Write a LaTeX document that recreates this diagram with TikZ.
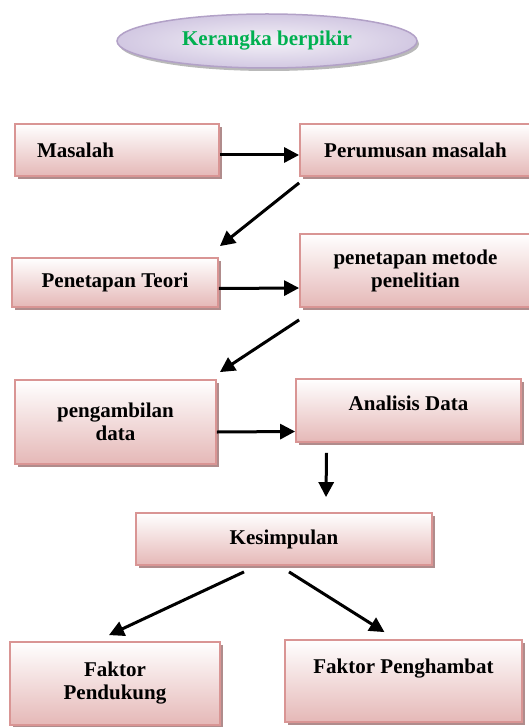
\documentclass[tikz,border=0pt]{standalone}
\usepackage{fontspec}
\setmainfont{Liberation Serif}
\usetikzlibrary{arrows.meta,positioning,shadows,shapes.geometric}
\definecolor{boxline}{RGB}{217,149,148}
\definecolor{boxpink}{RGB}{229,184,183}
\definecolor{boxshade}{RGB}{176,140,140}
\definecolor{ovalline}{RGB}{178,161,199}
\definecolor{ovalfill}{RGB}{210,200,226}
\definecolor{titlegreen}{RGB}{0,176,80}

\begin{document}
\begin{tikzpicture}[x=1pt,y=-1pt,>=Latex,
stage box/.style={draw=boxline,line width=1.8pt,top color=white,bottom color=boxpink,drop shadow={shadow xshift=3pt,shadow yshift=-3pt,fill=boxshade,opacity=1},align=center,inner sep=0pt,font=\bfseries\fontsize{21}{23}\selectfont},
title oval/.style={ellipse,draw=ovalline,line width=1.5pt,inner color=white!75!ovalfill,outer color=ovalfill,drop shadow={shadow xshift=2pt,shadow yshift=-3pt,fill=gray!55,opacity=1},inner sep=0pt,text=titlegreen,font=\bfseries\fontsize{21}{23}\selectfont},
flow/.style={-{Triangle[length=15pt,width=15pt]},line width=3pt}]
\useasboundingbox (0,0) rectangle (529,727);
\node[title oval,minimum width=300pt,minimum height=54pt] (judul) at (267,41) {Kerangka berpikir};
\node[stage box,minimum height=52pt,text width=160pt,align=left,inner xsep=22pt] (masalah) at (117,150) {Masalah};
\node[stage box,minimum width=231pt,minimum height=52pt] (perumusan) at (415.5,150) {Perumusan masalah};
\node[stage box,minimum width=206pt,minimum height=49pt] (teori) at (115,282.5) {Penetapan Teori};
\node[stage box,minimum width=231pt,minimum height=73pt] (metode) at (415.5,270.5) {penetapan metode\\penelitian};
\node[stage box,minimum width=201pt,minimum height=84pt] (ambil) at (115.5,422) {pengambilan\\data};
\node[stage box,minimum width=225pt,minimum height=63pt,text depth=14pt] (analisis) at (408.5,410.5) {Analisis Data};
\node[stage box,minimum width=296pt,minimum height=52pt] (kesimpulan) at (284,539) {Kesimpulan};
\node[stage box,minimum width=210pt,minimum height=83pt] (pendukung) at (115,683.5) {Faktor\\Pendukung};
\node[stage box,minimum width=237pt,minimum height=82pt,text depth=30pt] (penghambat) at (403.5,681) {Faktor Penghambat};
% alur
\draw[flow] ([yshift=-5pt]masalah.east) -- ([yshift=-5pt]perumusan.west);
\draw[flow] ([yshift=-6pt]perumusan.south west) -- ([xshift=1pt,yshift=11pt]teori.north east);
\draw[flow] ([yshift=-6pt]teori.east) -- ([yshift=-17.5pt]metode.west);
\draw[flow] ([yshift=-12pt]metode.south west) -- ([xshift=3pt,yshift=7pt]ambil.north east);
\draw[flow] ([yshift=-10pt]ambil.east) -- ([yshift=-21pt]analisis.west);
\draw[flow] ([xshift=-82pt,yshift=-10pt]analisis.south) -- ([xshift=42pt,yshift=15pt]kesimpulan.north);
\draw[flow] ([xshift=-40pt,yshift=-6pt]kesimpulan.south) -- ([xshift=-6pt,yshift=6pt]pendukung.north);
\draw[flow] ([xshift=5pt,yshift=-6pt]kesimpulan.south) -- ([xshift=-19pt,yshift=7pt]penghambat.north);
\end{tikzpicture}
\end{document}
